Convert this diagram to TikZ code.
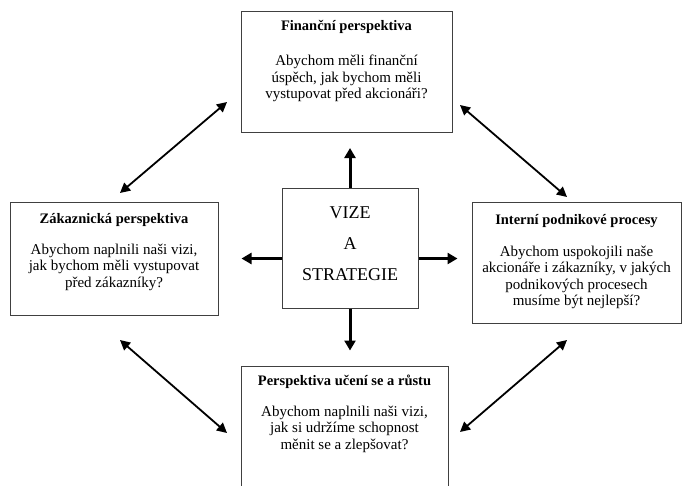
\documentclass[tikz,border=0pt]{standalone}
\usepackage{fontspec}
\setmainfont{Liberation Serif}
\usetikzlibrary{arrows.meta}
\begin{document}
\begin{tikzpicture}[x=1pt,y=-1pt,
  box/.style={draw=black!75, line width=1pt, fill=white, inner sep=0pt},
  ttl/.style={font=\fontsize{14.5}{17}\selectfont\bfseries, inner sep=0pt, anchor=center},
  body/.style={font=\fontsize{15}{16.5}\selectfont, align=center, inner sep=0pt, anchor=north},
  arr/.style={line width=3pt, -{Triangle[length=10pt,width=11pt]}},
  darr/.style={line width=1.8pt, {Triangle[length=10pt,width=10pt]}-{Triangle[length=10pt,width=10pt]}}]
\clip (0,0) rectangle (684,485);
\fill[white] (0,0) rectangle (684,485);
% boxes
\node[box, minimum width=211pt, minimum height=121pt] (fin) at (346.5,72) {};
\node[box, minimum width=208pt, minimum height=113pt] (zak) at (114,258.5) {};
\node[box, minimum width=209pt, minimum height=121pt] (intp) at (576.5,262.5) {};
\node[box, minimum width=207pt, minimum height=124pt] (uc) at (344.5,428) {};
\node[box, minimum width=136pt, minimum height=120pt] (viz) at (350,248) {};
% texts
\node[ttl] (finT) at ([yshift=-16pt]fin.north) {Finanční perspektiva};
\node[body] (finB) at ([yshift=-44pt]fin.north) {Abychom měli finanční\\úspěch, jak bychom měli\\vystupovat před akcionáři?};
\node[ttl] (zakT) at ([yshift=-18pt]zak.north) {Zákaznická perspektiva};
\node[body] (zakB) at ([yshift=-42pt]zak.north) {Abychom naplnili naši vizi,\\jak bychom měli vystupovat\\před zákazníky?};
\node[ttl] (intpT) at ([yshift=-20pt]intp.north) {Interní podnikové procesy};
\node[body] (intpB) at ([yshift=-44pt]intp.north) {Abychom uspokojili naše\\akcionáře i zákazníky, v jakých\\podnikových procesech\\musíme být nejlepší?};
\node[ttl] (ucT) at ([yshift=-16pt]uc.north) {Perspektiva učení se a růstu};
\node[body] (ucB) at ([yshift=-40pt]uc.north) {Abychom naplnili naši vizi,\\jak si udržíme schopnost\\měnit se a zlepšovat?};
\node[font=\fontsize{18}{31}\selectfont, align=center, inner sep=0pt] (vizT) at (350,244) {VIZE\\A\\STRATEGIE};
% center arrows
\draw[arr, shorten >=15pt] (viz.north) -- (fin.south -| viz.north);
\draw[arr, shorten >=23pt] (viz.west |- zak.east) -- (zak.east);
\draw[arr, shorten >=14pt] (viz.east |- zak.east) -- (intp.west |- zak.east);
\draw[arr, shorten >=15pt] (viz.south) -- (uc.north -| viz.south);
% diagonal arrows
\coordinate (a1) at (227,102); \coordinate (a2) at (120,193);
\coordinate (b1) at (460,105); \coordinate (b2) at (567,197);
\coordinate (c1) at (120,340); \coordinate (c2) at (227,433);
\coordinate (d1) at (567,340); \coordinate (d2) at (460,432);
\draw[darr] (a1) -- (a2);
\draw[darr] (b1) -- (b2);
\draw[darr] (c1) -- (c2);
\draw[darr] (d1) -- (d2);
\end{tikzpicture}
\end{document}
